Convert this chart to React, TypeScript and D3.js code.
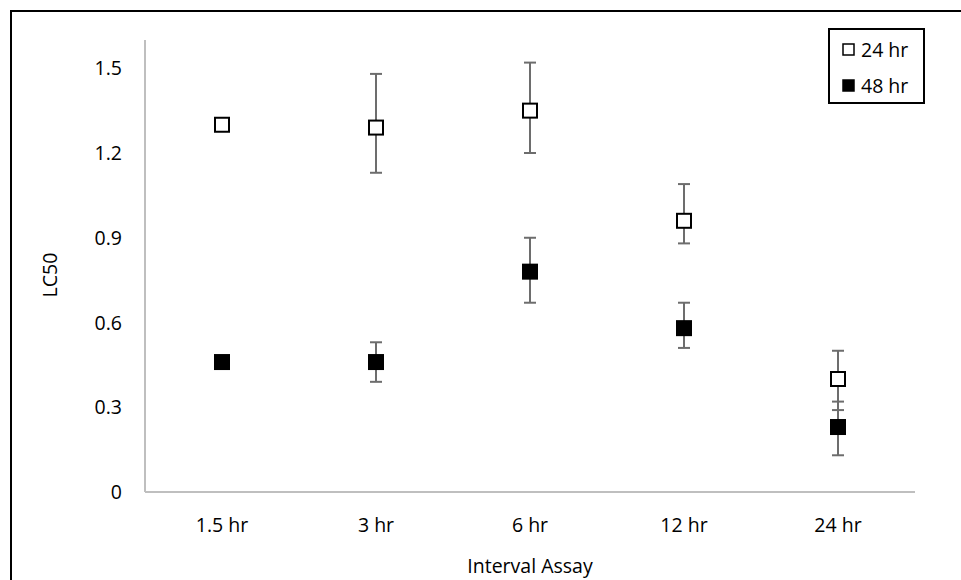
import React from 'react';
import * as d3 from 'd3';

const categories = ['1.5 hr', '3 hr', '6 hr', '12 hr', '24 hr'];
const hr24 = [1.3, 1.29, 1.35, 0.96, 0.4];
const hr24Plus = [0, 0.19, 0.17, 0.13, 0.1];
const hr24Minus = [0, 0.16, 0.15, 0.08, 0.11];
const hr48 = [0.46, 0.46, 0.78, 0.58, 0.23];
const hr48Plus = [0.02, 0.07, 0.12, 0.09, 0.09];
const hr48Minus = [0.02, 0.07, 0.11, 0.07, 0.1];
const yTicks = [0, 0.3, 0.6, 0.9, 1.2, 1.5];

const W = 961;
const H = 580;
const font = "'Open Sans', 'Liberation Sans', sans-serif";

export default function App() {
    const x = d3.scaleBand().domain(categories).range([145, 915]);
    const y = d3.scaleLinear().domain([0, 1.6]).range([492, 40]);
    const cx = (c: string) => (x(c) as number) + x.bandwidth() / 2;

    const series = [
        { name: '24 hr', vals: hr24, plus: hr24Plus, minus: hr24Minus, fill: '#ffffff' },
        { name: '48 hr', vals: hr48, plus: hr48Plus, minus: hr48Minus, fill: '#000000' },
    ];

    return (
        <svg width={W} height={H} style={{ position: 'absolute', left: 0, top: 0, background: '#fff' }}>
            <rect x={11} y={11} width={1000} height={1000} fill="none" stroke="#000" strokeWidth={2} />

            {/* axes */}
            <line x1={145} x2={145} y1={y(1.6)} y2={y(0)} stroke="#bfbfbf" strokeWidth={2} />
            <line x1={145} x2={915} y1={y(0)} y2={y(0)} stroke="#bfbfbf" strokeWidth={2} />

            {yTicks.map(t => (
                <text key={t} x={122} y={y(t) + 7} textAnchor="end"
                    fontFamily={font} fontSize={19.5} fill="#000">{t}</text>
            ))}
            {categories.map(c => (
                <text key={c} x={cx(c)} y={532} textAnchor="middle"
                    fontFamily={font} fontSize={19.5} fill="#000">{c}</text>
            ))}
            <text x={530} y={573} textAnchor="middle"
                fontFamily={font} fontSize={19.5} fill="#000">Interval Assay</text>
            <text transform={`translate(57,275) rotate(-90)`} textAnchor="middle"
                fontFamily={font} fontSize={19.5} fill="#000">LC50</text>

            {/* error bars */}
            {series.map(s => categories.map((c, i) => {
                const top = y(s.vals[i] + s.plus[i]);
                const bot = y(s.vals[i] - s.minus[i]);
                const px = cx(c);
                return (
                    <g key={s.name + c} stroke="#6d6d6d" strokeWidth={2}>
                        <line x1={px} x2={px} y1={top} y2={bot} />
                        <line x1={px - 6} x2={px + 6} y1={top} y2={top} />
                        <line x1={px - 6} x2={px + 6} y1={bot} y2={bot} />
                    </g>
                );
            }))}

            {/* markers */}
            {series.map(s => categories.map((c, i) => (
                <rect key={'m' + s.name + c} x={cx(c) - 7} y={y(s.vals[i]) - 7} width={14} height={14}
                    fill={s.fill} stroke="#000" strokeWidth={2} />
            )))}

            {/* legend */}
            <rect x={829} y={29} width={95} height={74} fill="#fff" stroke="#000" strokeWidth={2} />
            {series.map((s, i) => (
                <g key={'l' + s.name}>
                    <rect x={843} y={44 + i * 36} width={11} height={11} fill={s.fill} stroke="#000" strokeWidth={1.5} />
                    <text x={861} y={57 + i * 36} fontFamily={font} fontSize={19.5} fill="#000">{s.name}</text>
                </g>
            ))}
        </svg>
    );
}
